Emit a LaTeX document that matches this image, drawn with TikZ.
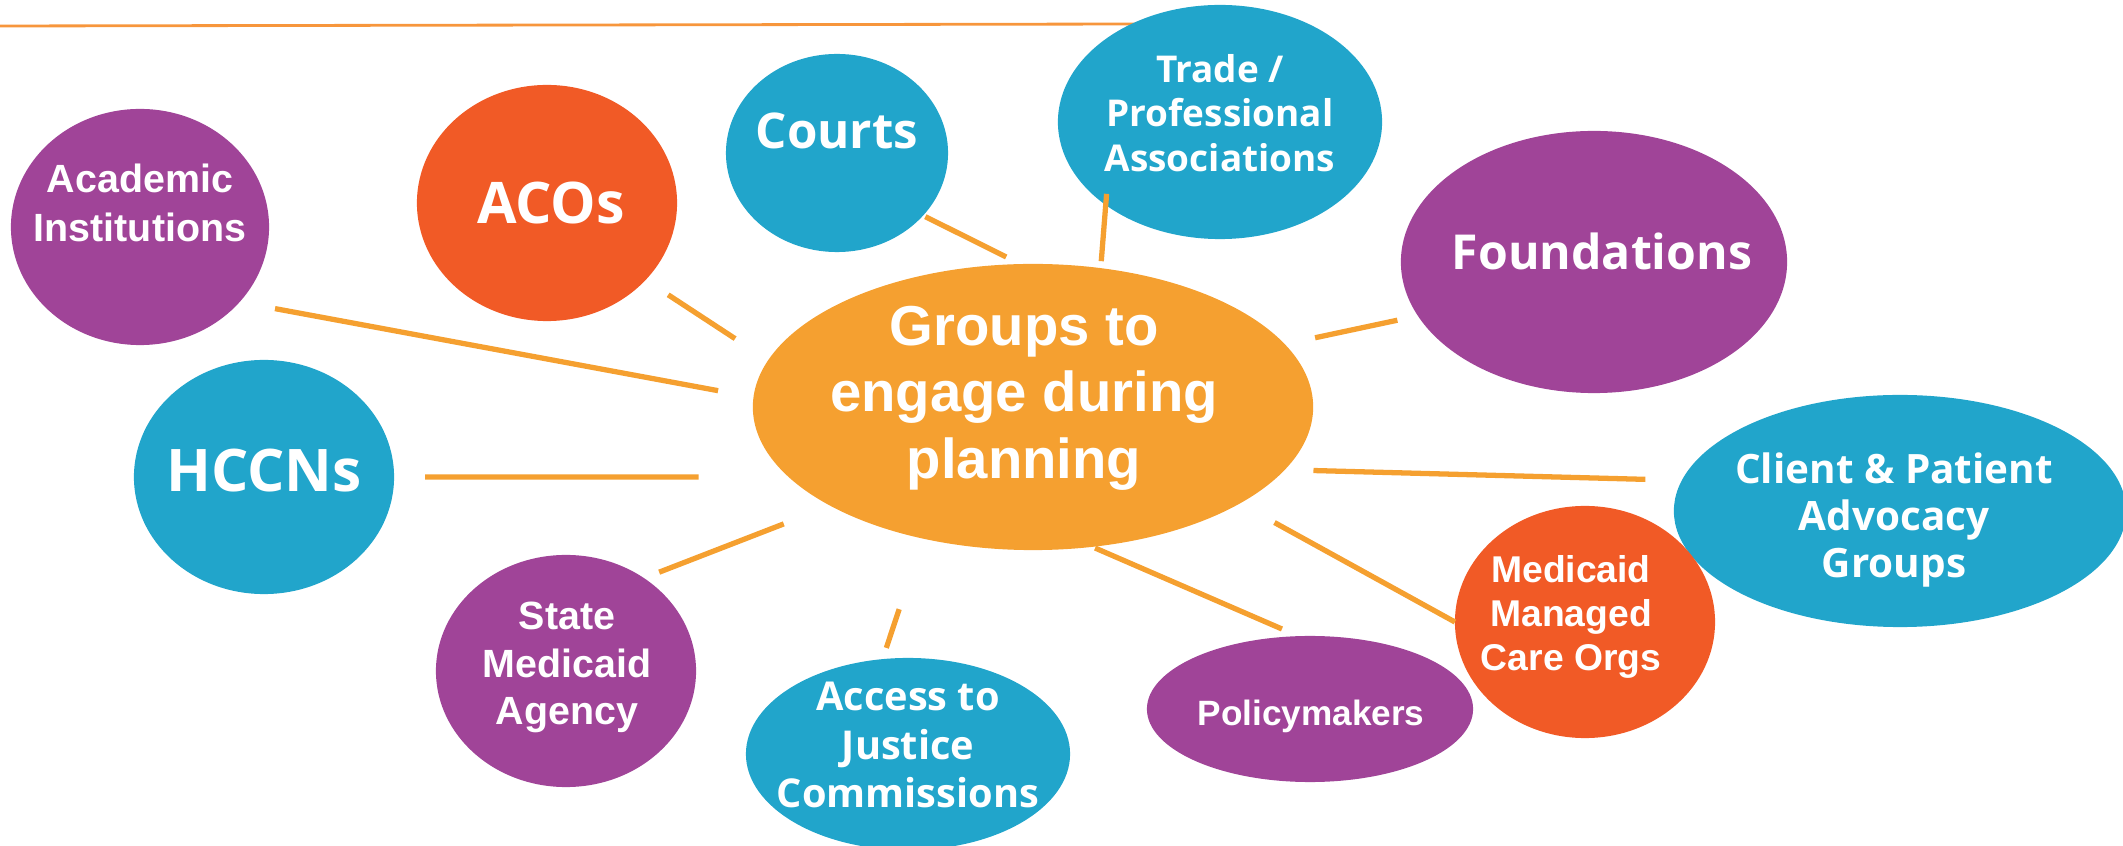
\documentclass[tikz,border=0pt]{standalone}
\usepackage{fontspec}
\setmainfont{Liberation Sans}
\newfontfamily\opensans{Open Sans}
\usetikzlibrary{shapes.geometric}

\definecolor{purp}{HTML}{A04498}
\definecolor{redor}{HTML}{F15A26}
\definecolor{skyb}{HTML}{21A5CB}
\definecolor{hubor}{HTML}{F5A030}
\definecolor{lineor}{HTML}{F7963C}

\begin{document}
\begin{tikzpicture}[x=0.01cm, y=-0.01cm,
    bubble/.style={ellipse, fill=#1, inner sep=0pt, outer sep=0pt},
    ar/.style 2 args={text=white, align=center, inner sep=0pt,
      font=\bfseries\fontsize{#1}{#2}\selectfont},
    os/.style 2 args={text=white, align=center, inner sep=0pt,
      font=\opensans\bfseries\fontsize{#1}{#2}\selectfont},
    link/.style={draw=hubor, line width=1.5pt}]
    \useasboundingbox (0,0) rectangle (2123,846);

    % Rule across the top
    \draw[lineor, line width=0.8pt] (0,26) -- (1140,24);

    % Centre
    \node[bubble=hubor, minimum width=5.60cm, minimum height=2.86cm] (hub) at (1033,407) {};
    \node[ar={16}{18.9}] (hub-t) at (1024,398) {Groups to\\engage during\\planning};

    % Groups round it
    \node[bubble=purp, minimum width=2.58cm, minimum height=2.36cm] (acad) at (140,227) {};
    \node[ar={11.2}{13.9}] (acad-t) at (140,203) {Academic\\Institutions};

    \node[bubble=redor, minimum width=2.60cm, minimum height=2.36cm] (aco) at (547,203) {};
    \node[os={16.3}{19}] (aco-t) at (551,203.5) {ACOs};

    \node[bubble=skyb, minimum width=2.60cm, minimum height=2.34cm] (hccn) at (264,477) {};
    \node[os={16.7}{19}] (hccn-t) at (264,471) {HCCNs};

    \node[bubble=skyb, minimum width=2.22cm, minimum height=1.98cm] (courts) at (837,153) {};
    \node[os={14}{16}] (courts-t) at (837,130.5) {Courts};

    \node[bubble=skyb, minimum width=3.24cm, minimum height=2.34cm] (trade) at (1220,122) {};
    \node[os={10.5}{12.7}] (trade-t) at (1220,113) {Trade /\\Professional\\Associations};

    \node[bubble=purp, minimum width=3.86cm, minimum height=2.62cm] (found) at (1594,262) {};
    \node[os={13.7}{16}] (found-t) at (1602,251) {Foundations};

    \node[bubble=skyb, minimum width=4.52cm, minimum height=2.32cm] (client) at (1900,511) {};
    \node[os={11.5}{13.5}] (client-t) at (1894,520) {Client \& Patient\\Advocacy\\Groups};

    \node[bubble=purp, minimum width=3.26cm, minimum height=1.46cm] (policy) at (1310,709) {};
    \node[ar={10}{12}] (policy-t) at (1311,716) {Policymakers};

    \node[bubble=redor, minimum width=2.60cm, minimum height=2.32cm] (mco) at (1585,622) {};
    \node[ar={10.6}{12.5}] (mco-t) at (1571,616.5) {Medicaid\\Managed\\Care Orgs};

    \node[bubble=skyb, minimum width=3.24cm, minimum height=1.92cm] (access) at (908,754) {};
    \node[os={11.3}{13.7}] (access-t) at (908,745) {Access to\\Justice\\Commissions};

    \node[bubble=purp, minimum width=2.60cm, minimum height=2.32cm] (state) at (566,671) {};
    \node[ar={11.2}{13.4}] (state-t) at (567,667.5) {State\\Medicaid\\Agency};

    % Spokes
    \draw[link, shorten <=0.36cm, shorten >=0.36cm] (hub.178.8) -- (acad.-37.1);
    \draw[link, shorten <=0.395cm, shorten >=0.27cm] (hub.170.1) -- (aco.-38.1);
    \draw[link, shorten <=0.90cm, shorten >=0.31cm] (hub.196.3) -- (hccn.0);
    \draw[link, shorten <=0.16cm, shorten >=0.025cm] (hub.95) -- (courts.-36.2);
    \draw[link, shorten <=0.07cm, shorten >=-0.112cm] (hub.64.5) -- (trade.-144);
    \draw[link, shorten <=0.31cm, shorten >=0.21cm] (hub.14.5) -- (found.197.9);
    \draw[link, shorten <=0.287cm, shorten >=0.366cm] (hub.-14.1) -- (client.172.8);
    \draw[link, shorten <=0.395cm] (hub.-25.4) -- (mco.180);
    \draw[link, shorten <=0.03cm, shorten >=0.18cm] (hub.-67.4) -- (policy.99.6);
    \draw[link, shorten <=0.744cm, shorten >=0.118cm] (hub.-130.1) -- (access.105.2);
    \draw[link, shorten <=0.50cm, shorten >=0.163cm] (hub.-154.7) -- (state.50.1);
\end{tikzpicture}
\end{document}
